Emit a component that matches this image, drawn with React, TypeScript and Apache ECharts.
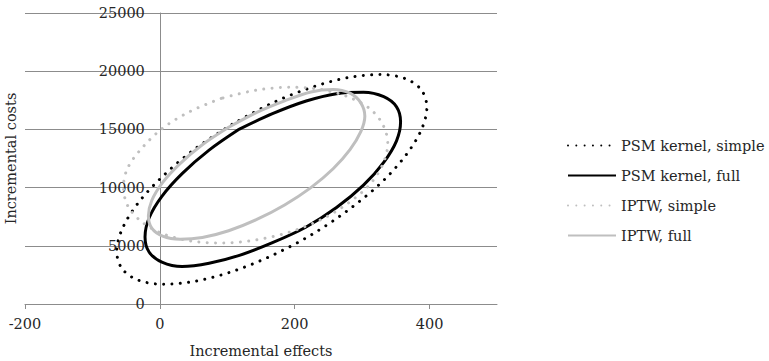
import React, { useEffect, useRef } from "react";
import * as echarts from "echarts";

const seriesNames = ["PSM kernel, simple", "PSM kernel, full", "IPTW, simple", "IPTW, full"];

// Points read around each ellipse (incremental effects, incremental costs)
const psmSimpleX = [107, 51, 4, -33, -56, -64, -56, -33, 4, 51, 107, 166, 226, 281, 329, 365, 388, 396, 388, 365, 329, 281, 226, 166, 107];
const psmSimpleY = [15430, 13280, 10960, 8620, 6420, 4520, 3030, 2070, 1700, 1940, 2780, 4160, 5990, 8140, 10460, 12800, 14990, 16900, 18380, 19340, 19710, 19470, 18630, 17250, 15430];

const psmFullX = [118, 73, 33, 3, -16, -22, -16, 3, 33, 73, 118, 167, 217, 262, 302, 332, 351, 357, 351, 332, 302, 262, 217, 167, 118];
const psmFullY = [15030, 13220, 11200, 9250, 7390, 5760, 4470, 3600, 3220, 3500, 4180, 5270, 6620, 8290, 10210, 12170, 14020, 15650, 16940, 17810, 18190, 18070, 17440, 16350, 15030];

const iptwSimpleX = [91, 44, 3, -28, -48, -54, -48, -28, 3, 44, 91, 142, 193, 240, 280, 312, 331, 338, 331, 312, 280, 240, 193, 142, 91];
const iptwSimpleY = [17660, 16520, 15050, 13300, 11650, 10080, 8480, 7110, 6070, 5430, 5240, 5500, 6190, 7280, 8690, 10310, 12050, 13780, 15380, 16750, 17780, 18420, 18620, 18360, 17660];

const iptwFullX = [102, 63, 30, 4, -12, -17, -12, 4, 30, 63, 102, 143, 185, 224, 257, 282, 298, 304, 298, 282, 257, 224, 185, 143, 102];
const iptwFullY = [15180, 13680, 12060, 10430, 8890, 7550, 6510, 5830, 5560, 5710, 6290, 7240, 8510, 10000, 11620, 13260, 14800, 16130, 17280, 18110, 18430, 18220, 17450, 16440, 15180];

const xTicks = [-200, 0, 200, 400];

const FONT = "DejaVu Serif";
const FS = 14.5;
const TEXT = "#262626";
const AXIS = "#8c8c8c";

function pairs(xs: number[], ys: number[]) {
  return xs.map((x, i) => [x, ys[i]]);
}

export default function App() {
  const ref = useRef<HTMLDivElement>(null);
  useEffect(() => {
    const chart = echarts.init(ref.current as HTMLDivElement, null, { renderer: "svg" });
    const dotted = (color: string) => ({
      color,
      width: 3,
      type: [0.01, 8.3],
      cap: "round",
    });
    const solid = (color: string) => ({ color, width: 3, type: "solid" });
    const mk = (name: string, data: number[][], lineStyle: any, color: string) => ({
      name,
      type: "line",
      data,
      smooth: 0.33,
      symbol: "none",
      showSymbol: false,
      color,
      lineStyle,
    });
    // place the value axis at x = 0 of the effects axis (grid 25..497 spans -200..500)
    const yAxisOffset = -(472 * 200) / 700;
    chart.setOption({
      animation: false,
      textStyle: { fontFamily: FONT, color: TEXT },
      grid: {
        left: 25,
        right: 272,
        top: 13,
        bottom: 57,
        containLabel: false,
        outerBoundsMode: "none",
      },
      legend: {
        orient: "vertical",
        left: 567,
        top: 138,
        padding: 0,
        itemWidth: 48,
        itemHeight: 14,
        itemGap: 15,
        itemStyle: { opacity: 0 },
        textStyle: { fontFamily: FONT, fontSize: FS, color: TEXT },
        data: seriesNames,
      },
      xAxis: {
        type: "value",
        min: -200,
        max: 500,
        interval: 200,
        axisLine: { onZero: true, lineStyle: { color: AXIS, width: 1 } },
        axisTick: { show: true, length: 5, customValues: xTicks, lineStyle: { color: AXIS } },
        axisLabel: {
          customValues: xTicks,
          margin: 12,
          fontSize: FS,
          color: TEXT,
          fontFamily: FONT,
          formatter: (v: number) => String(v),
        },
        splitLine: { show: false },
        name: "Incremental effects",
        nameLocation: "middle",
        nameGap: 39,
        nameTextStyle: { fontSize: FS, color: TEXT, fontFamily: FONT },
      },
      yAxis: {
        type: "value",
        min: 0,
        max: 25000,
        interval: 5000,
        offset: yAxisOffset,
        axisLine: { show: true, onZero: false, lineStyle: { color: AXIS, width: 1 } },
        axisTick: { show: false },
        axisLabel: {
          margin: 15,
          fontSize: FS,
          color: TEXT,
          fontFamily: FONT,
          formatter: (v: number) => String(v),
        },
        splitLine: { show: true, lineStyle: { color: AXIS, width: 1 } },
        name: "Incremental costs",
        nameLocation: "middle",
        nameGap: 141,
        nameTextStyle: { fontSize: FS, color: TEXT, fontFamily: FONT },
      },
      series: [
        mk(seriesNames[0], pairs(psmSimpleX, psmSimpleY), dotted("#000000"), "#000000"),
        mk(seriesNames[1], pairs(psmFullX, psmFullY), solid("#000000"), "#000000"),
        mk(seriesNames[2], pairs(iptwSimpleX, iptwSimpleY), dotted("#bfbfbf"), "#bfbfbf"),
        mk(seriesNames[3], pairs(iptwFullX, iptwFullY), solid("#bfbfbf"), "#bfbfbf"),
      ],
    });
    return () => chart.dispose();
  }, []);
  return (
    <div
      ref={ref}
      style={{ position: "absolute", left: 0, top: 0, width: 769, height: 361 }}
    />
  );
}
